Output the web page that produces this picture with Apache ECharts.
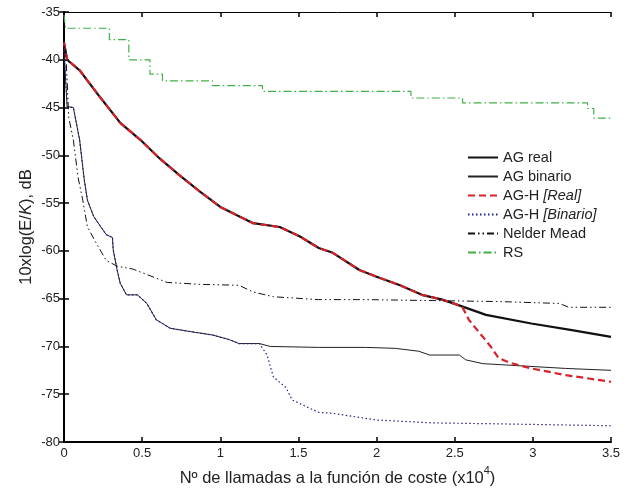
<!DOCTYPE html>
<html>
<head>
<meta charset="utf-8">
<script src="https://cdn.jsdelivr.net/npm/echarts@6/dist/echarts.min.js"></script>
<style>
    html, body { margin: 0; padding: 0; background: #fff; }
    #main { width: 635px; height: 490px; }
</style>
</head>
<body>
<div id="main"></div>
<script>
    // tramo comun AG real / AG-H [Real]
    var realX = [0, 0.02, 0.1, 0.23, 0.36, 0.49, 0.61, 0.74, 0.87, 1.0, 1.21, 1.38, 1.51, 1.63, 1.72, 1.89, 2.0, 2.15, 2.29, 2.42, 2.51];
    var realY = [-38.2, -40.0, -41.1, -43.9, -46.6, -48.4, -50.3, -52.1, -53.8, -55.4, -57.1, -57.5, -58.5, -59.7, -60.2, -62.0, -62.7, -63.6, -64.6, -65.1, -65.6];
    var agRealX = [2.70, 2.99, 3.25, 3.5];
    var agRealY = [-66.7, -67.6, -68.3, -69.0];
    var aghRealX = [2.55, 2.59, 2.66, 2.73, 2.78, 2.85, 2.99, 3.21, 3.5];
    var aghRealY = [-65.9, -67.2, -68.6, -70.0, -71.2, -71.7, -72.3, -73.0, -73.7];

    // tramo comun AG binario / AG-H [Binario]
    var binX = [0, 0.02, 0.06, 0.1, 0.13, 0.15, 0.19, 0.27, 0.31, 0.315, 0.34, 0.36, 0.40, 0.47, 0.53, 0.59, 0.68, 0.83, 0.95, 1.06, 1.12, 1.25];
    var binY = [-39.0, -44.9, -45.0, -48.4, -52.6, -54.7, -56.4, -58.3, -58.6, -59.9, -62.0, -63.4, -64.6, -64.6, -65.5, -67.2, -68.1, -68.5, -68.8, -69.3, -69.7, -69.7];
    var agBinX = [1.32, 1.63, 1.93, 2.12, 2.27, 2.34, 2.53, 2.57, 2.68, 3.21, 3.5];
    var agBinY = [-70.0, -70.1, -70.1, -70.2, -70.5, -70.9, -70.9, -71.4, -71.8, -72.3, -72.5];
    var aghBinX = [1.30, 1.32, 1.34, 1.42, 1.46, 1.55, 1.63, 1.72, 2.0, 2.36, 2.78, 3.5];
    var aghBinY = [-70.9, -72.1, -73.2, -74.3, -75.6, -76.3, -76.9, -77.0, -77.7, -78.0, -78.1, -78.3];

    var nmX = [0, 0.01, 0.02, 0.03, 0.06, 0.09, 0.12, 0.15, 0.21, 0.27, 0.34, 0.44, 0.66, 0.87, 1.12, 1.21, 1.34, 1.63, 1.93, 2.78, 3.17, 3.23, 3.5];
    var nmY = [-38.5, -39.0, -42.1, -46.0, -48.4, -52.3, -54.7, -57.5, -59.3, -61.0, -61.6, -61.9, -63.3, -63.5, -63.6, -64.3, -64.8, -65.1, -65.1, -65.3, -65.5, -65.9, -65.9];

    // RS: escalones (valor hasta el siguiente x)
    var rsX = [0, 0.01, 0.29, 0.415, 0.55, 0.63, 0.95, 1.27, 2.22, 2.55, 3.35, 3.39, 3.5];
    var rsY = [-35.3, -36.7, -37.9, -40.0, -41.5, -42.2, -42.7, -43.3, -44.0, -44.5, -45.1, -46.1, -46.1];

    var xTicks = [0, 0.5, 1, 1.5, 2, 2.5, 3, 3.5];
    var yTicks = [-80, -75, -70, -65, -60, -55, -50, -45, -40, -35];

    function zip(xs, ys) {
        var out = [];
        for (var i = 0; i < xs.length; i++) out.push([xs[i], ys[i]]);
        return out;
    }

    var font = 'Liberation Sans, Arial, sans-serif';

    var myChart = echarts.init(document.getElementById('main'));
    var option = {
        animation: false,
        backgroundColor: '#fff',
        grid: {
            left: 64,
            right: 24,
            top: 12,
            bottom: 48,
            containLabel: false,
            outerBoundsMode: 'none'
        },
        legend: {
            orient: 'vertical',
            left: 467,
            top: 150,
            padding: 0,
            itemWidth: 30,
            itemHeight: 14,
            itemGap: 4,
            itemStyle: { color: 'rgba(0,0,0,0)', borderWidth: 0 },
            data: ['AG real', 'AG binario', 'AG-H [Real]', 'AG-H [Binario]', 'Nelder Mead', 'RS'],
            formatter: function (name) {
                return name.replace(/(\[.*\])/, '{i|$1}');
            },
            textStyle: {
                fontFamily: font,
                fontSize: 14.5,
                color: '#222',
                rich: {
                    i: { fontFamily: font, fontSize: 14.5, fontStyle: 'italic', color: '#222' }
                }
            }
        },
        xAxis: [
            {
                type: 'value',
                position: 'bottom',
                min: xTicks[0],
                max: xTicks[xTicks.length - 1],
                interval: 0.5,
                name: 'Nº de llamadas a la función de coste (x10{s|4})',
                nameLocation: 'middle',
                nameGap: 23,
                nameTextStyle: {
                    fontFamily: font,
                    fontSize: 16.5,
                    color: '#222',
                    rich: {
                        s: { fontFamily: font, fontSize: 11, color: '#222', padding: [0, 0, 16, 0] }
                    }
                },
                axisLine: { lineStyle: { color: '#000', width: 2 } },
                axisTick: { inside: true, length: 5, lineStyle: { color: '#000', width: 1.5 } },
                axisLabel: { fontFamily: font, fontSize: 13, color: '#222', margin: 5 },
                splitLine: { show: false }
            },
            {
                type: 'value',
                position: 'top',
                min: xTicks[0],
                max: xTicks[xTicks.length - 1],
                interval: 0.5,
                axisLine: { lineStyle: { color: '#000', width: 1 } },
                axisTick: { inside: true, length: 5, lineStyle: { color: '#000', width: 1.5 } },
                axisLabel: { show: false },
                splitLine: { show: false }
            }
        ],
        yAxis: [
            {
                type: 'value',
                position: 'left',
                min: yTicks[0],
                max: yTicks[yTicks.length - 1],
                interval: 5,
                name: '10xlog(E/{i|K}), dB',
                nameLocation: 'middle',
                nameGap: 29,
                nameMoveOverlap: false,
                nameTextStyle: {
                    fontFamily: font,
                    fontSize: 16.5,
                    color: '#222',
                    rich: {
                        i: { fontFamily: font, fontSize: 16.5, fontStyle: 'italic', color: '#222' }
                    }
                },
                axisLine: { lineStyle: { color: '#000', width: 2 } },
                axisTick: { inside: true, length: 5, lineStyle: { color: '#000', width: 1.5 } },
                axisLabel: { fontFamily: font, fontSize: 13, color: '#222', margin: 4 },
                splitLine: { show: false }
            },
            {
                type: 'value',
                position: 'right',
                min: yTicks[0],
                max: yTicks[yTicks.length - 1],
                interval: 5,
                axisLine: { lineStyle: { color: '#000', width: 1 } },
                axisTick: { inside: true, length: 5, lineStyle: { color: '#000', width: 1.5 } },
                axisLabel: { show: false },
                splitLine: { show: false }
            }
        ],
        series: [
            {
                name: 'AG real',
                type: 'line',
                symbol: 'none',
                color: '#111',
                lineStyle: { color: '#111', width: 2.2 },
                data: zip(realX.concat(agRealX), realY.concat(agRealY))
            },
            {
                name: 'AG binario',
                type: 'line',
                symbol: 'none',
                color: '#222',
                lineStyle: { color: '#222', width: 1 },
                data: zip(binX.concat(agBinX), binY.concat(agBinY))
            },
            {
                name: 'AG-H [Real]',
                type: 'line',
                symbol: 'none',
                color: '#d8222a',
                lineStyle: { color: '#d8222a', width: 2.2, type: [7, 4] },
                data: zip(realX.concat(aghRealX), realY.concat(aghRealY))
            },
            {
                name: 'AG-H [Binario]',
                type: 'line',
                symbol: 'none',
                color: '#20208c',
                lineStyle: { color: '#20208c', width: 1.2, type: [1.5, 2.5] },
                data: zip(binX.concat(aghBinX), binY.concat(aghBinY))
            },
            {
                name: 'Nelder Mead',
                type: 'line',
                symbol: 'none',
                color: '#111',
                lineStyle: { color: '#111', width: 1, type: [7, 3, 1.5, 3, 1.5, 3] },
                data: zip(nmX, nmY)
            },
            {
                name: 'RS',
                type: 'line',
                symbol: 'none',
                step: 'end',
                color: '#2f9e44',
                lineStyle: { color: '#40b04a', width: 1.2, type: [8, 3, 1.5, 3] },
                data: zip(rsX, rsY)
            }
        ]
    };
    myChart.setOption(option, true);
</script>
</body>
</html>
